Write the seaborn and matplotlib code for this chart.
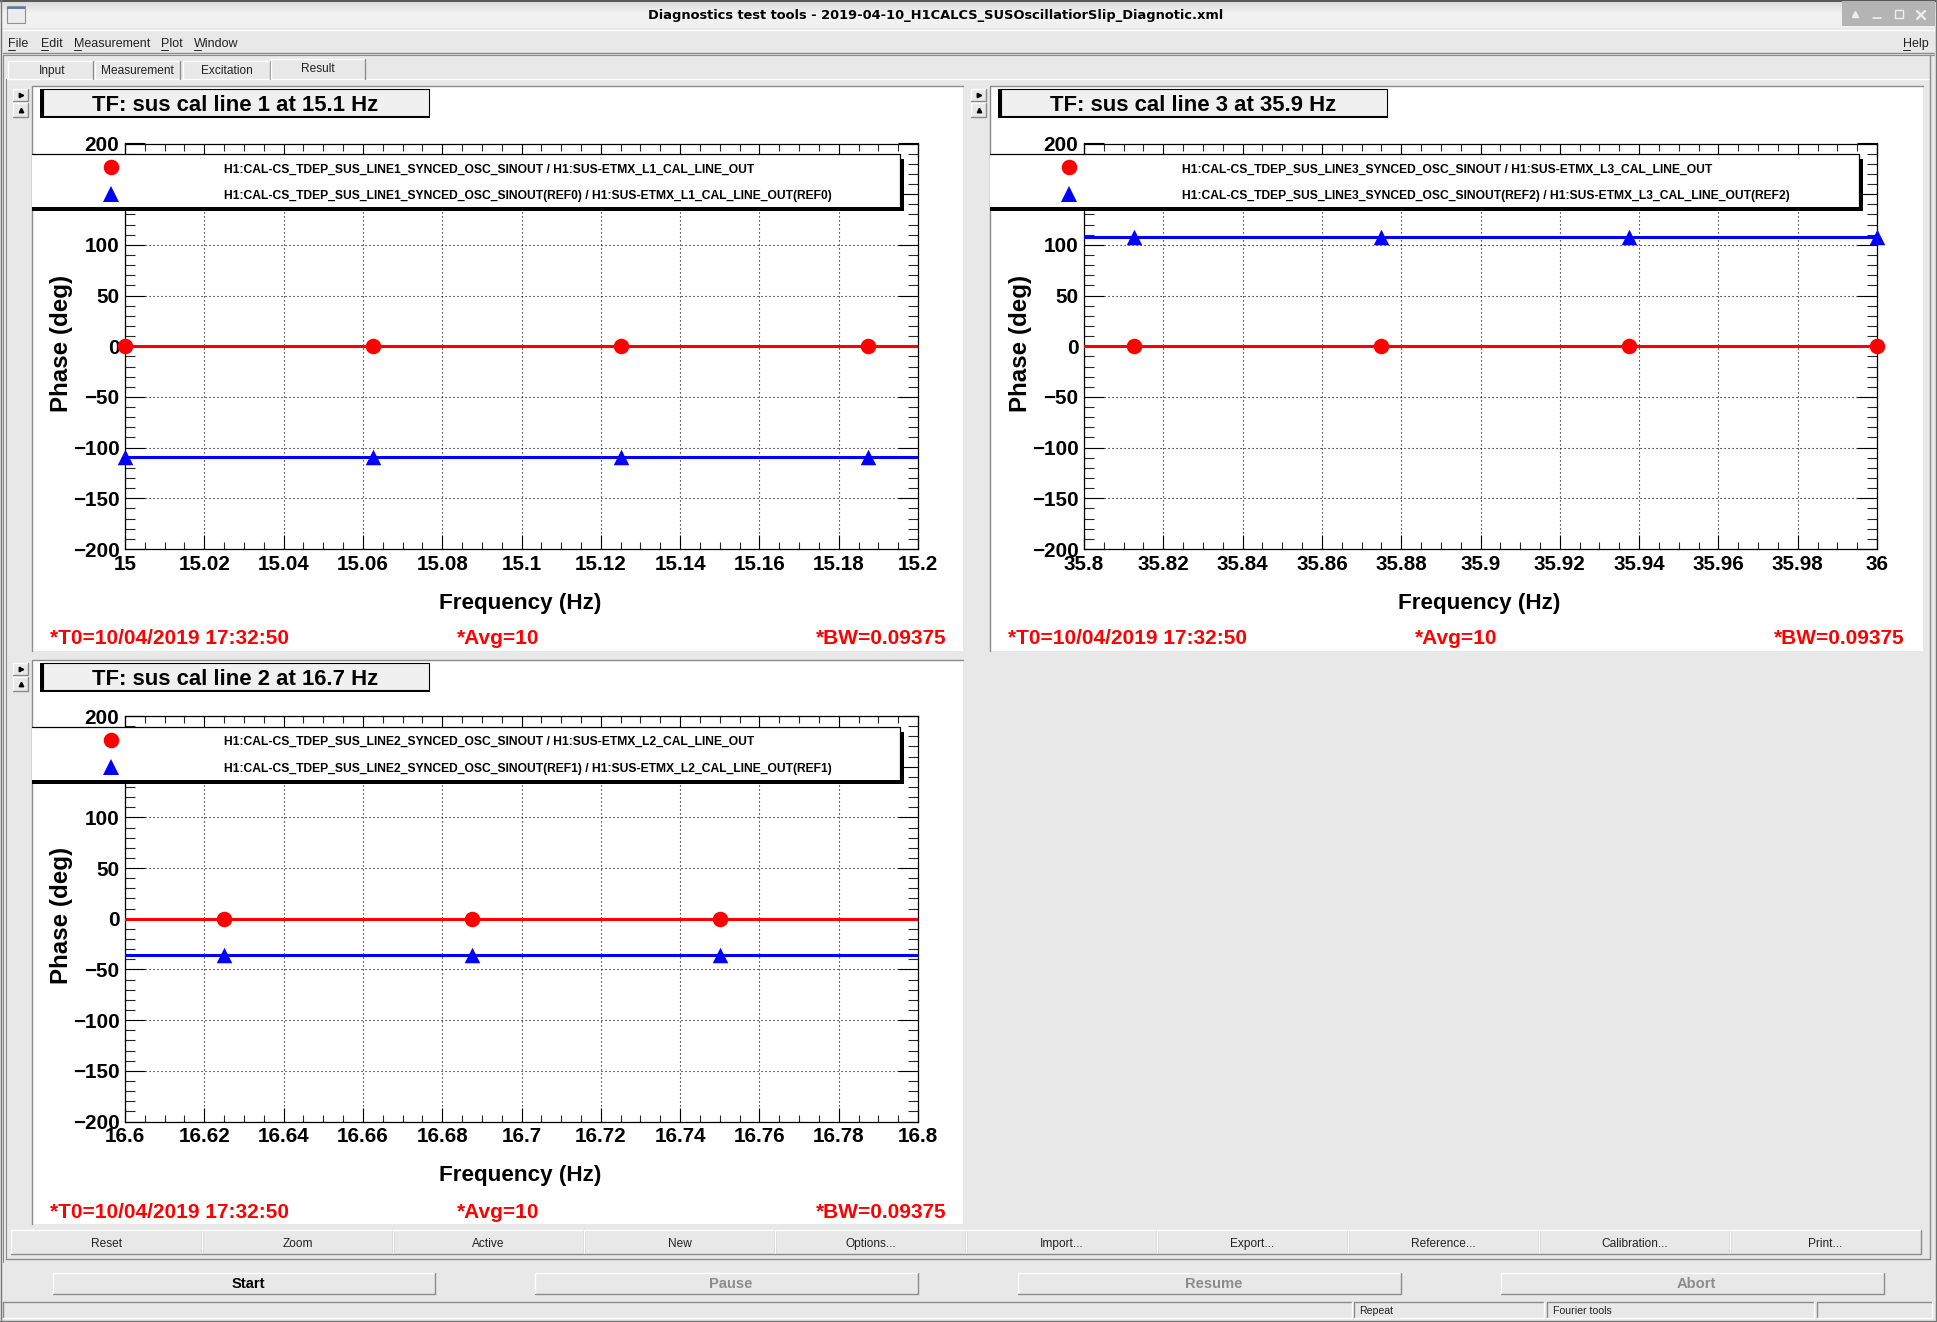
import matplotlib
matplotlib.use("Agg")
import matplotlib.pyplot as plt
import numpy as np
import pandas as pd
import seaborn as sns
from matplotlib.patches import Rectangle
from matplotlib.ticker import MultipleLocator, FuncFormatter

# Measured frequencies around each line, the outer ones fall off the axes
freq_line1 = [14.9375, 15.0, 15.0625, 15.125, 15.1875, 15.25]
freq_line2 = [16.5625, 16.625, 16.6875, 16.75, 16.8125]
freq_line3 = [35.75, 35.8125, 35.875, 35.9375, 36.0, 36.0625]

# Phase in degrees
phase_line1 = [0, 0, 0, 0, 0, 0]
phase_line2 = [0, 0, 0, 0, 0]
phase_line3 = [0, 0, 0, 0, 0, 0]
phase_ref0 = [-109, -109, -109, -109, -109, -109]
phase_ref1 = [-36, -36, -36, -36, -36]
phase_ref2 = [108, 108, 108, 108, 108, 108]

titles = ["TF: sus cal line 1 at 15.1 Hz", "TF: sus cal line 3 at 35.9 Hz", "TF: sus cal line 2 at 16.7 Hz"]
legend_main = [
    "H1:CAL-CS_TDEP_SUS_LINE1_SYNCED_OSC_SINOUT / H1:SUS-ETMX_L1_CAL_LINE_OUT",
    "H1:CAL-CS_TDEP_SUS_LINE3_SYNCED_OSC_SINOUT / H1:SUS-ETMX_L3_CAL_LINE_OUT",
    "H1:CAL-CS_TDEP_SUS_LINE2_SYNCED_OSC_SINOUT / H1:SUS-ETMX_L2_CAL_LINE_OUT",
]
legend_ref = [
    "H1:CAL-CS_TDEP_SUS_LINE1_SYNCED_OSC_SINOUT(REF0) / H1:SUS-ETMX_L1_CAL_LINE_OUT(REF0)",
    "H1:CAL-CS_TDEP_SUS_LINE3_SYNCED_OSC_SINOUT(REF2) / H1:SUS-ETMX_L3_CAL_LINE_OUT(REF2)",
    "H1:CAL-CS_TDEP_SUS_LINE2_SYNCED_OSC_SINOUT(REF1) / H1:SUS-ETMX_L2_CAL_LINE_OUT(REF1)",
]
x_limits = [(15.0, 15.2), (35.8, 36.0), (16.6, 16.8)]
y_limits = (-200, 200)
x_tick_labels = [
    ["15", "15.02", "15.04", "15.06", "15.08", "15.1", "15.12", "15.14", "15.16", "15.18", "15.2"],
    ["35.8", "35.82", "35.84", "35.86", "35.88", "35.9", "35.92", "35.94", "35.96", "35.98", "36"],
    ["16.6", "16.62", "16.64", "16.66", "16.68", "16.7", "16.72", "16.74", "16.76", "16.78", "16.8"],
]
stamp_t0 = "*T0=10/04/2019 17:32:50"
stamp_avg = "*Avg=10"
stamp_bw = "*BW=0.09375"

menu_items = [("File", 8), ("Edit", 41), ("Measurement", 74), ("Plot", 161), ("Window", 194)]
tab_names = ["Input", "Measurement", "Excitation", "Result"]
button_names = ["Reset", "Zoom", "Active", "New", "Options...", "Import...", "Export...",
                "Reference...", "Calibration...", "Print..."]
action_names = ["Start", "Pause", "Resume", "Abort"]
window_title = "Diagnostics test tools - 2019-04-10_H1CALCS_SUSOscillatiorSlip_Diagnotic.xml"

W, H = 1937, 1322
GREY = "#e8e8e8"

sns.set_theme(style="white")
plt.rcParams["font.family"] = ["Liberation Sans", "DejaVu Sans"]
plt.rcParams["axes.unicode_minus"] = True

fig = plt.figure(figsize=(W / 100, H / 100), dpi=100, facecolor=GREY)

# Window chrome and pads live on a pixel-coordinate axes behind the plots
bg = fig.add_axes([0, 0, 1, 1], zorder=0)
bg.set_xlim(0, W)
bg.set_ylim(H, 0)
bg.axis("off")

fg = fig.add_axes([0, 0, 1, 1], zorder=10)
fg.set_xlim(0, W)
fg.set_ylim(H, 0)
fg.axis("off")
fg.patch.set_alpha(0)


def rect(ax, x0, y0, x1, y1, face=GREY, edge="none", lw=0.72, z=1):
    ax.add_patch(Rectangle((x0, y0), x1 - x0, y1 - y0, facecolor=face, edgecolor=edge, linewidth=lw, zorder=z))


def raised(ax, x0, y0, x1, y1, z=1):
    # Motif style bevel: white top and left, grey bottom and right
    rect(ax, x0, y0, x1, y1, z=z)
    ax.plot([x0, x0, x1], [y1, y0, y0], color="white", lw=1.0, zorder=z + 0.1)
    ax.plot([x0, x1, x1], [y1, y1, y0], color="#8c8c8c", lw=1.0, zorder=z + 0.1)


def sunken(ax, x0, y0, x1, y1, z=1):
    rect(ax, x0, y0, x1, y1, z=z)
    ax.plot([x0, x0, x1], [y1, y0, y0], color="#8c8c8c", lw=1.0, zorder=z + 0.1)
    ax.plot([x0, x1, x1], [y1, y1, y0], color="white", lw=1.0, zorder=z + 0.1)


def gui_text(ax, x, y, s, size=8.6, ha="center", color="#222222", weight="normal"):
    ax.text(x, y, s, fontsize=size, ha=ha, va="center", color=color, fontweight=weight, zorder=5)


# Title bar
grad = np.linspace(0, 1, 28).reshape(-1, 1)
bg.imshow(grad, extent=(0, W, 28, 0), cmap=matplotlib.colors.LinearSegmentedColormap.from_list("t", ["#d8d8d8", "#f2f2f2", "#f0f0f0"]),
          aspect="auto", zorder=0.5)
bg.set_xlim(0, W)
bg.set_ylim(H, 0)
bg.plot([0, W], [0.5, 0.5], color="#555555", lw=1.4, zorder=1)
bg.plot([0.8, 0.8], [0, H], color="#777777", lw=1.0, zorder=6)
bg.plot([W - 1, W - 1], [0, H], color="#777777", lw=1.0, zorder=6)
bg.plot([0, W], [H - 1, H - 1], color="#777777", lw=1.0, zorder=6)
bg.text(935.5, 15.5, window_title, fontsize=9.4, family="DejaVu Sans", fontweight="bold", ha="center", va="center",
        color="black", zorder=5)
rect(bg, 7, 6, 25, 23, face="#ececec", edge="#909090", lw=0.8, z=2)
rect(bg, 7, 7, 25, 9, face="#5b7fb5", z=2.1)
# window buttons corner
rect(bg, 1842, 1, W - 2, 26, face="#b4b4b4", z=2)
bg.plot(1855, 14, marker="^", ms=5, color="#eeeeee", zorder=3)
bg.plot([1873, 1881], [18, 18], color="#eeeeee", lw=1.2, zorder=3)
bg.add_patch(Rectangle((1895, 10), 8, 8, fill=False, edgecolor="#eeeeee", lw=1.0, zorder=3))
bg.plot([1917, 1925], [11, 19], color="#eeeeee", lw=1.6, zorder=3)
bg.plot([1917, 1925], [19, 11], color="#eeeeee", lw=1.6, zorder=3)

# Menu bar
bg.plot([3, W - 3], [30, 30], color="white", lw=1.0, zorder=1)
bg.plot([3, W - 3], [53, 53], color="#8c8c8c", lw=1.0, zorder=1)
bg.plot([3, W - 3], [55, 55], color="#8c8c8c", lw=0.8, zorder=1)
for name, mx in menu_items:
    gui_text(bg, mx, 44, name, ha="left", size=9.0)
    bg.plot([mx, mx + 7], [50, 50], color="#222222", lw=0.7, zorder=5)
gui_text(bg, 1903, 44, "Help", ha="left", size=9.0)
bg.plot([1903, 1910], [50, 50], color="#222222", lw=0.7, zorder=5)

# Tabs
tab_edges = [(8, 93), (95, 180), (183, 270), (271, 365)]
bg.plot([7, 1930], [79, 79], color="white", lw=1.0, zorder=1)
for name, (t0, t1) in zip(tab_names, tab_edges):
    top = 59 if name == "Result" else 61
    bg.plot([t0, t0, t1, t1], [79, top, top, 79], color="white", lw=1.0, zorder=2)
    bg.plot([t1, t1], [top, 79], color="#8c8c8c", lw=1.0, zorder=2)
    gui_text(bg, (t0 + t1) / 2 + (2 if name == "Input" else 0), 69 if name == "Result" else 71, name)

# Frame of the plot area
bg.plot([3, 3], [55, 1262], color="#8c8c8c", lw=0.8, zorder=1)
bg.plot([6, 6], [79, 1259], color="#8c8c8c", lw=0.8, zorder=1)
bg.plot([6, W - 7], [1259, 1259], color="#8c8c8c", lw=1.0, zorder=1)
bg.plot([W - 7, W - 7], [55, 1259], color="#8c8c8c", lw=1.0, zorder=1)

# White pads, upper left, upper right, lower left
pads = [(32, 86, 963, 651), (990, 86, 1923, 651), (32, 660, 963, 1224)]
for px0, py0, px1, py1 in pads:
    rect(bg, px0, py0, px1, py1, face="white", z=1)
    bg.plot([px0, px0, px1], [py1, py0, py0], color="#8c8c8c", lw=1.0, zorder=2)
    for by0, by1, mk in [(py0 + 3, py0 + 15, ">"), (py0 + 17, py0 + 31, "^")]:
        raised(bg, px0 - 19, by0, px0 - 4, by1, z=2)
        bg.plot((2 * px0 - 23) / 2, (by0 + by1) / 2, marker=mk, ms=3.2, color="black", zorder=4)

# Buttons under the plots
btn_w = 191.0
for i, name in enumerate(button_names):
    x0 = 11 + i * btn_w
    raised(bg, x0, 1230, x0 + btn_w, 1254, z=2)
    gui_text(bg, x0 + btn_w / 2 + (0 if i < 2 else 0), 1244, name)

# Action buttons
action_edges = [(53, 435), (535, 918), (1018, 1401), (1501, 1884)]
for i, (name, (a0, a1)) in enumerate(zip(action_names, action_edges)):
    raised(bg, a0, 1273, a1, 1294, z=2)
    gui_text(bg, (a0 + a1) / 2 + 4, 1283.5, name, size=10.6, weight="bold", color="black" if i == 0 else "#8c8c8c")

# Status bar
for s0, s1 in [(3, 1352), (1354, 1544), (1547, 1814), (1817, 1932)]:
    sunken(bg, s0, 1302, s1, 1318, z=2)
gui_text(bg, 1359, 1311, "Repeat", ha="left", size=7.6)
gui_text(bg, 1553, 1311, "Fourier tools", ha="left", size=7.6)

# The three plots, pixel boxes of the axes
boxes = [(125, 143.5, 918, 549), (1084, 143.5, 1877, 549), (125, 716, 918, 1121.5)]
series = [
    (freq_line1, phase_line1, phase_ref0),
    (freq_line3, phase_line3, phase_ref2),
    (freq_line2, phase_line2, phase_ref1),
]

for i, (x0, y0, x1, y1) in enumerate(boxes):
    ax = fig.add_axes([x0 / W, 1 - y1 / H, (x1 - x0) / W, (y1 - y0) / H], zorder=2)
    freq, main, ref = series[i]
    df = pd.DataFrame({"freq": freq, "main": main, "ref": ref})
    lo, hi = x_limits[i]
    shown = df[(df.freq >= lo) & (df.freq <= hi)]

    sns.lineplot(data=df, x="freq", y="main", color="#ff0000", linewidth=2.2, ax=ax, errorbar=None, zorder=3)
    sns.lineplot(data=df, x="freq", y="ref", color="#0000ff", linewidth=2.2, ax=ax, errorbar=None, zorder=3)
    sns.scatterplot(data=shown, x="freq", y="main", color="#ff0000", marker="o", s=125, linewidth=0,
                    ax=ax, clip_on=False, zorder=4)
    sns.scatterplot(data=shown, x="freq", y="ref", color="#0000ff", marker="^", s=125, linewidth=0,
                    ax=ax, clip_on=False, zorder=4)

    ax.set_xlim(lo, hi)
    ax.set_ylim(*y_limits)
    ax.xaxis.set_minor_locator(MultipleLocator(0.005))
    ax.yaxis.set_major_locator(MultipleLocator(50))
    ax.yaxis.set_minor_locator(MultipleLocator(10))
    ax.set_xticks(np.linspace(lo, hi, 11))
    ax.set_xticklabels(x_tick_labels[i])
    ax.yaxis.set_major_formatter(FuncFormatter(lambda v, _: f"\u2212{abs(v):.0f}" if v < 0 else f"{v:.0f}"))

    ax.grid(True, which="major", color="black", linestyle=(0, (1, 2.6)), linewidth=0.8, zorder=1)
    ax.set_axisbelow(True)
    ax.tick_params(axis="x", which="major", direction="in", length=10, width=0.8, top=True, bottom=True,
                   labelsize=14.9, pad=4, colors="black")
    ax.tick_params(axis="x", which="minor", direction="in", length=5, width=0.8, top=True, bottom=True)
    ax.tick_params(axis="y", which="major", direction="in", length=14.4, width=0.8, left=True, right=True,
                   labelsize=14.9, pad=4, colors="black")
    ax.tick_params(axis="y", which="minor", direction="in", length=7.2, width=0.8, left=True, right=True)
    for lab in ax.get_xticklabels() + ax.get_yticklabels():
        lab.set_fontweight("bold")
    for sp in ax.spines.values():
        sp.set_visible(True)
        sp.set_color("black")
        sp.set_linewidth(0.9)

    ax.set_xlabel("Frequency (Hz)", fontsize=16.2, fontweight="bold", color="black")
    ax.set_ylabel("Phase (deg)", fontsize=17.4, fontweight="bold", color="black")
    ax.xaxis.set_label_coords(0.498, -(592.5 - 549) / (y1 - y0), transform=ax.transAxes)
    ax.yaxis.set_label_coords(-52 / (x1 - x0), 0.508, transform=ax.transAxes)

    # Title box
    px0, py0, px1, py1 = pads[i]
    rect(fg, px0 + 8, py0 + 3, px0 + 398, py0 + 32, face="black", z=3)
    rect(fg, px0 + 11, py0 + 3, px0 + 397, py0 + 30, face="#f0f0f0", edge="black", lw=0.8, z=3.1)
    fg.text(px0 + 203, py0 + 19.5, titles[i], fontsize=15.9, fontweight="bold", ha="center", va="center",
            color="black", zorder=4)

    # Legend box with its drop shadow
    ly0 = y0 + 10.5
    ly1 = y0 + 63.5
    edge_x = x1 - 18
    rect(fg, edge_x, ly0 + 5, edge_x + 3.5, ly1 + 4, face="black", z=3)
    rect(fg, px0, ly1, edge_x + 3.5, ly1 + 4, face="black", z=3)
    rect(fg, px0, ly0, edge_x, ly1, face="white", z=3.1)
    fg.plot([px0, edge_x, edge_x], [ly0, ly0, ly1], color="black", lw=0.9, zorder=3.2)
    fg.plot(px0 + 79, ly0 + 13, marker="o", ms=11.2, mew=0, color="#ff0000", zorder=4)
    fg.plot(px0 + 79, ly0 + 40, marker="^", ms=11.2, mew=0, color="#0000ff", zorder=4)
    tx = px0 + 192
    fg.text(tx, ly0 + 15.5, legend_main[i], fontsize=8.72, fontweight="bold", ha="left", va="center", color="black", zorder=4)
    fg.text(tx, ly0 + 42.5, legend_ref[i], fontsize=8.72, fontweight="bold", ha="left", va="center", color="black", zorder=4)

    # Stamps at the bottom of the pad
    sy = py0 + 553
    fg.text(px0 + 18, sy, stamp_t0, fontsize=15.0, fontweight="bold", color="#ff0000", ha="left", va="center", zorder=4)
    fg.text(px0 + 425, sy, stamp_avg, fontsize=15.0, fontweight="bold", color="#ff0000", ha="left", va="center", zorder=4)
    fg.text(px0 + 915, sy, stamp_bw, fontsize=15.0, fontweight="bold", color="#ff0000", ha="right", va="center", zorder=4)

fig.savefig("out.png", dpi=100, facecolor=GREY)
